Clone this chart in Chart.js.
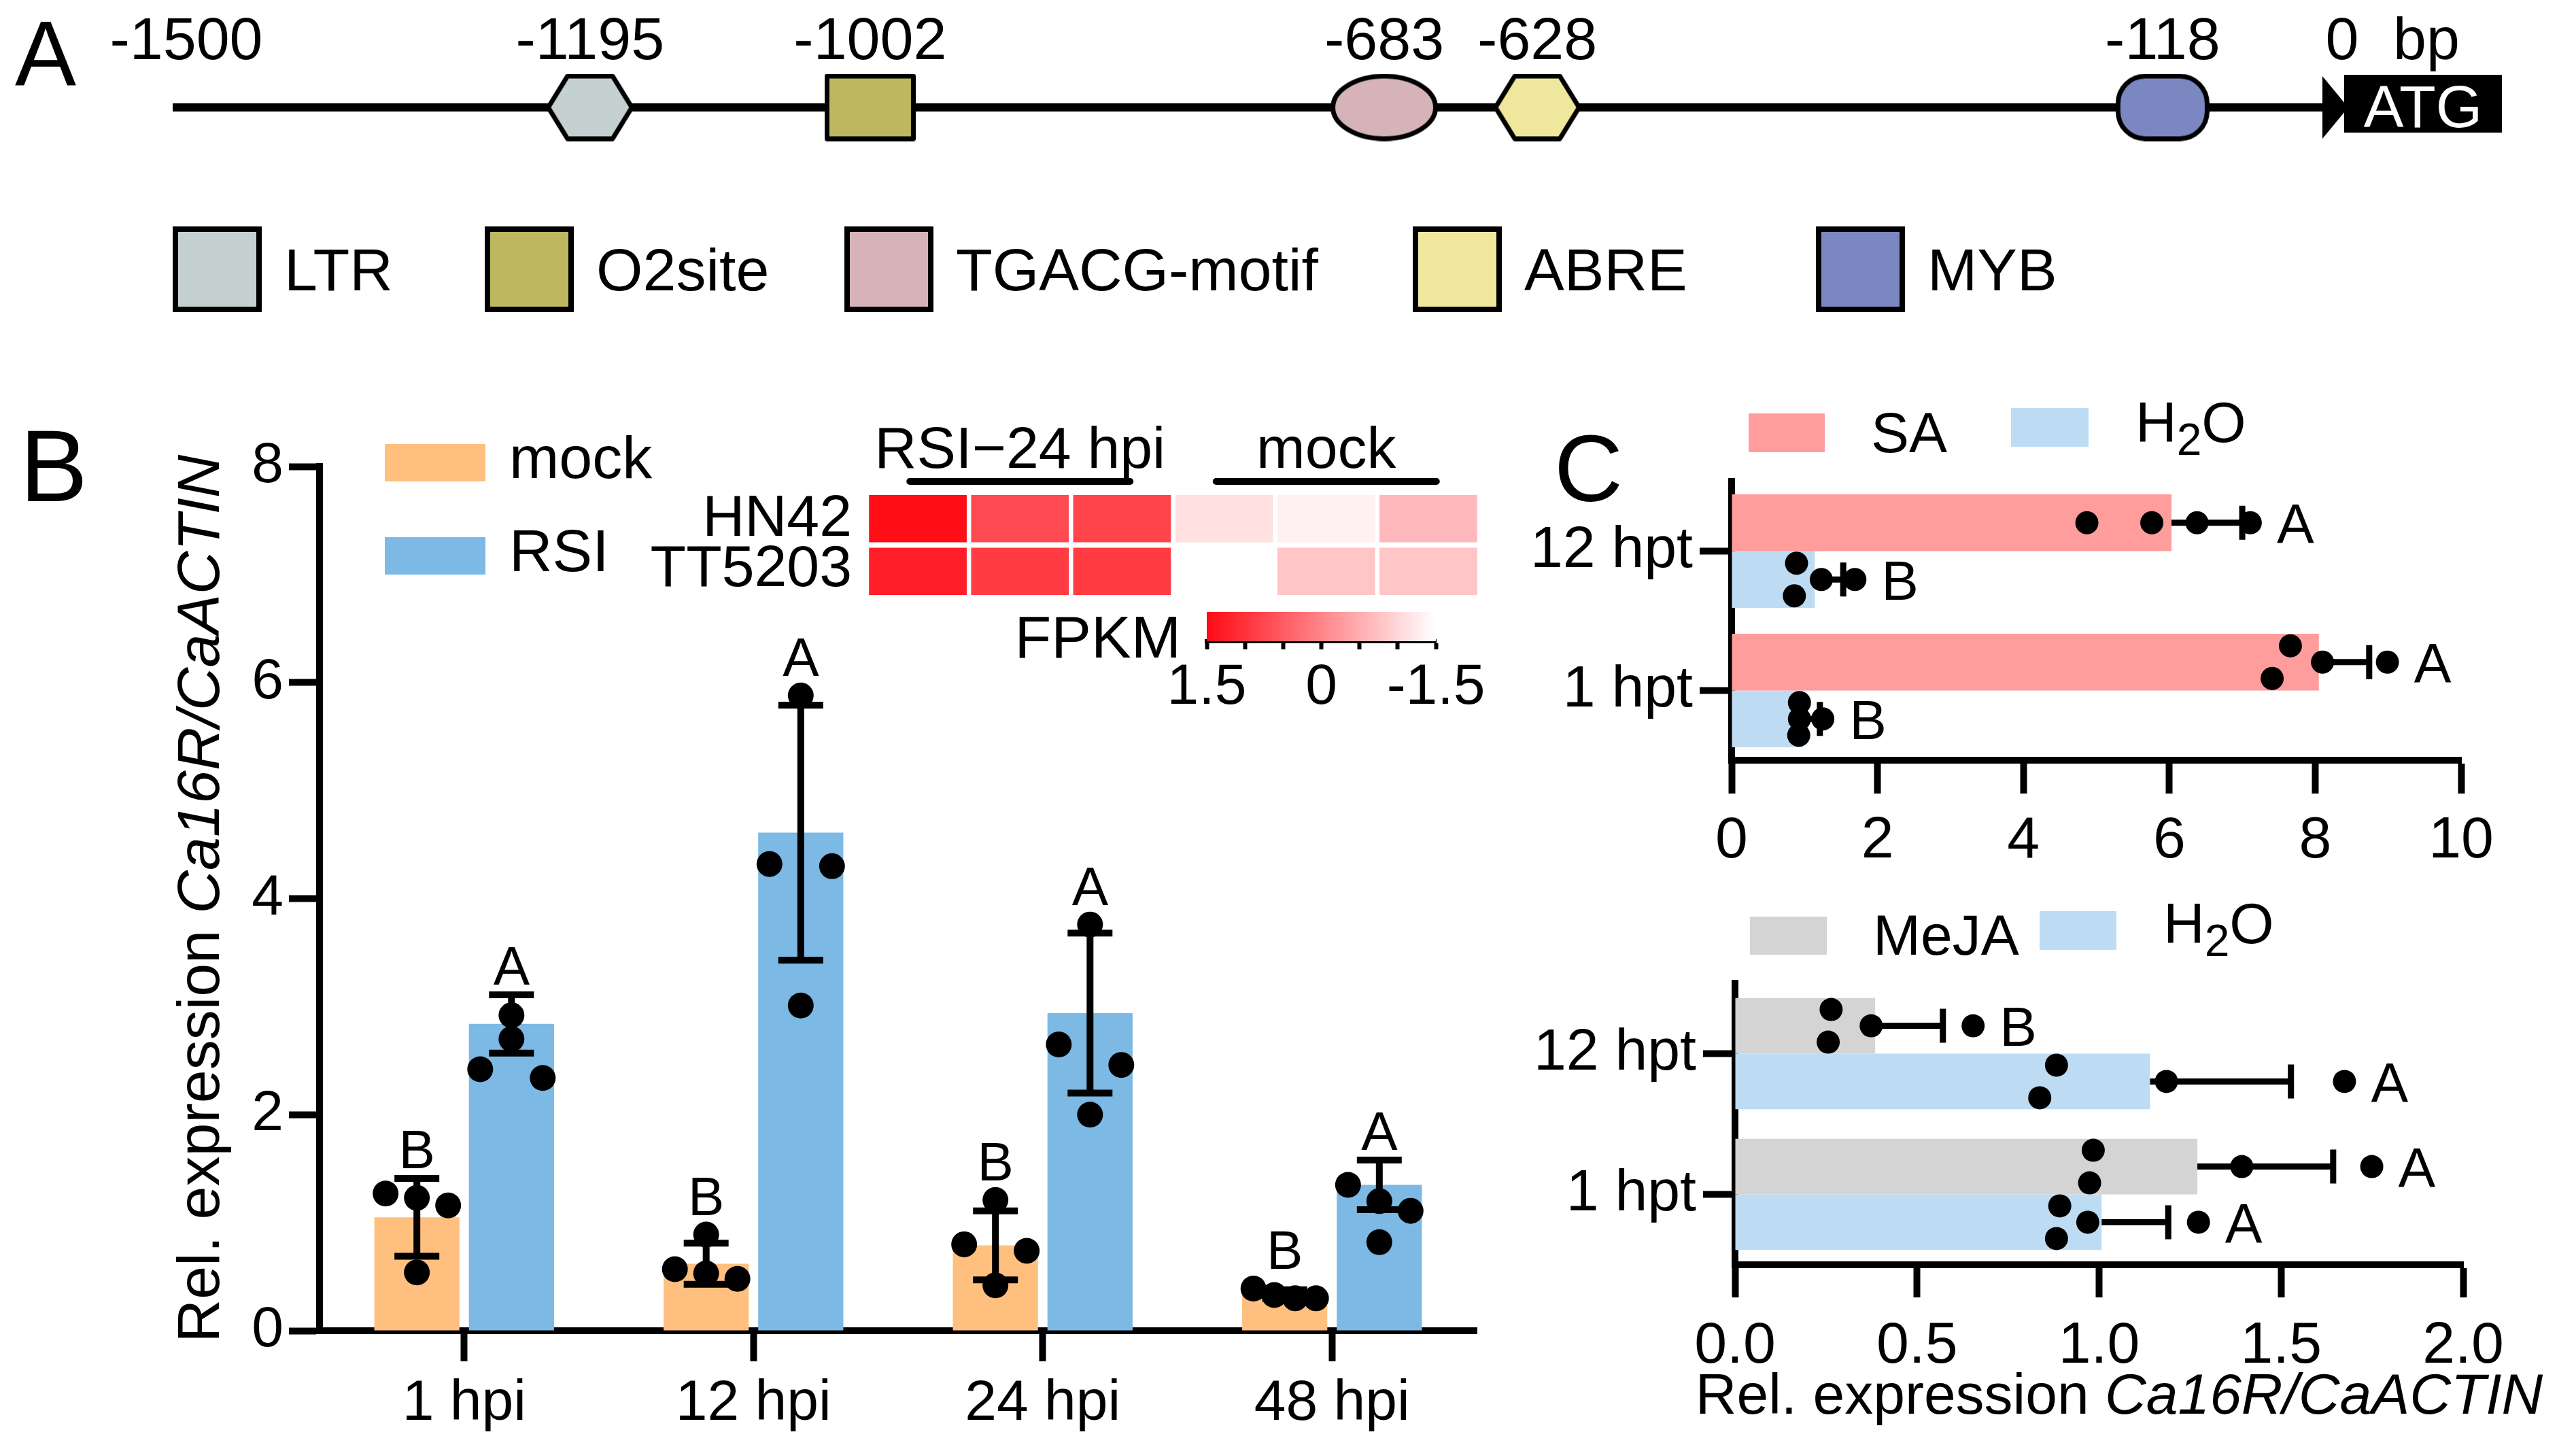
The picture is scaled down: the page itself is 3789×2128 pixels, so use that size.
<!DOCTYPE html>
<html lang="en">
<head>
<meta charset="UTF-8">
<title>Ca16R promoter elements and expression</title>
<script src="https://cdn.jsdelivr.net/npm/chart.js@4.4.1/dist/chart.umd.min.js"></script>
<style>
  html, body { margin: 0; padding: 0; background: #fff; }
  #page { position: relative; width: 3789px; height: 2128px; overflow: hidden; background: #fff; }
  #page canvas { position: absolute; }
</style>
</head>
<body>
<div id="page">
  <canvas id="mapChart"></canvas>
  <canvas id="rsiChart"></canvas>
  <canvas id="fpkmChart"></canvas>
  <canvas id="heatChart"></canvas>
  <canvas id="saChart"></canvas>
  <canvas id="mejaChart"></canvas>
</div>
<script>
// ---------- A: promoter map ----------
const siteNames = ['LTR', 'O2site', 'TGACG-motif', 'ABRE', 'MYB'];
const siteBp = [-1195, -1002, -683, -628, -118];
// where each element sits on the drawn map (the map is not to scale)
const siteMapPos = [-1211, -1017, -661, -555, -122];
const siteShapes = ['hexagon', 'rect', 'ellipse', 'hexagon', 'pill'];
const siteColors = ['#c5d1d0', '#bdb75f', '#d6b3b8', '#efe89c', '#7b87c1'];
const mapEnds = [-1500, 0];

// ---------- B: RSI time course ----------
const hpi = ['1 hpi', '12 hpi', '24 hpi', '48 hpi'];
const mockMean = [1.05, 0.62, 0.79, 0.34];
const mockSd = [0.36, 0.19, 0.32, 0.04];
const mockReps = [[1.27, 1.23, 1.16, 0.54], [0.89, 0.57, 0.53, 0.48], [1.21, 0.80, 0.74, 0.42], [0.39, 0.33, 0.30, 0.30]];
const mockLetters = ['B', 'B', 'B', 'B'];
const rsiMean = [2.84, 4.61, 2.94, 1.35];
const rsiSd = [0.27, 1.18, 0.74, 0.23];
const rsiReps = [[2.92, 2.70, 2.42, 2.34], [5.88, 4.32, 4.30, 3.01], [3.76, 2.65, 2.46, 2.00], [1.35, 1.20, 1.11, 0.82]];
const rsiLetters = ['A', 'A', 'A', 'A'];

// heatmap (row z-scores of FPKM)
const heatCols = ['RSI 1', 'RSI 2', 'RSI 3', 'mock 1', 'mock 2', 'mock 3'];
const heatGroups = ['RSI\u221224 hpi', 'mock'];
const heatRows = ['HN42', 'TT5203'];
const heatHN42 = [1.45, 0.72, 0.79, -1.13, -1.32, -0.63];
const heatTT5203 = [1.25, 0.90, 0.90, -1.50, -0.79, -0.79];
const fpkmLabels = [1.5, 0, -1.5];

// ---------- C: SA / MeJA ----------
const hpt = ['12 hpt', '1 hpt'];
const saMean = [6.03, 8.05];
const saSd = [0.97, 0.69];
const saReps = [[4.87, 5.76, 6.38, 7.11], [7.66, 8.10, 7.41, 8.99]];
const saLetters = ['A', 'A'];
const waterSaMean = [1.14, 0.98];
const waterSaSd = [0.39, 0.23];
const waterSaReps = [[0.89, 1.23, 1.69, 0.86], [0.92, 0.93, 1.25, 0.93]];
const waterSaLetters = ['B', 'B'];
const mejaMean = [0.385, 1.27];
const mejaSd = [0.186, 0.373];
const mejaReps = [[0.264, 0.374, 0.256, 0.654], [0.984, 1.392, 0.974, 1.749]];
const mejaLetters = ['B', 'A'];
const waterJaMean = [1.14, 1.007];
const waterJaSd = [0.387, 0.183];
const waterJaReps = [[0.883, 1.185, 0.837, 1.674], [0.883, 0.969, 0.892, 1.273]];
const waterJaLetters = ['A', 'A'];

const axisTitle = [['Rel. expression ', false], ['Ca16R/CaACTIN', true]];

// ---------- helpers ----------
const FONT = '"Liberation Sans", Arial, sans-serif';
Chart.defaults.font.family = FONT;
Chart.defaults.color = '#000';

function build(id, box, area, cfg, leftAxis, bottomAxis) {
  const cv = document.getElementById(id);
  cv.width = box.w; cv.height = box.h;
  Object.assign(cv.style, { left: box.x + 'px', top: box.y + 'px', width: box.w + 'px', height: box.h + 'px' });
  const o = cfg.options;
  o.responsive = false; o.animation = false; o.devicePixelRatio = 1;
  o.plugins = Object.assign({ legend: { display: false }, tooltip: { enabled: false } }, o.plugins || {});
  const lw = area.l - box.x, bh = box.y + box.h - area.b;
  o.layout = { padding: { left: leftAxis ? 0 : lw, top: area.t - box.y, right: box.x + box.w - area.r, bottom: bottomAxis ? 0 : bh } };
  if (leftAxis) o.scales[leftAxis].afterFit = s => { s.width = lw; };
  if (bottomAxis) o.scales[bottomAxis].afterFit = s => { s.height = bh; };
  return new Chart(cv, cfg);
}

function axisOpts(tickLen, lw, pad, size, extra) {
  const a = {
    grid: { drawOnChartArea: false, drawTicks: true, tickLength: tickLen, tickWidth: lw, tickColor: '#000', offset: false },
    border: { display: true, color: '#000', width: lw },
    ticks: { color: '#000', padding: pad, font: { size: size }, autoSkip: false, maxRotation: 0 }
  };
  for (const k in (extra || {})) {
    if (k === 'ticks') Object.assign(a.ticks, extra.ticks); else a[k] = extra[k];
  }
  return a;
}

function richText(ctx, parts, cx, y, size) {
  const fonts = parts.map(p => (p[1] ? 'italic ' : '') + size + 'px ' + FONT);
  const widths = parts.map((p, i) => { ctx.font = fonts[i]; return ctx.measureText(p[0]).width; });
  let x = cx - widths.reduce((a, b) => a + b, 0) / 2;
  ctx.textAlign = 'left'; ctx.textBaseline = 'alphabetic';
  parts.forEach((p, i) => { ctx.font = fonts[i]; ctx.fillText(p[0], x, y); x += widths[i]; });
}

// label with a subscript two (H₂O)
function labelText(ctx, text, x, y, size) {
  const parts = text.split('\u2082');
  ctx.textAlign = 'left'; ctx.textBaseline = 'alphabetic';
  let cx = x;
  parts.forEach((p, i) => {
    if (i > 0) {
      ctx.font = Math.round(size * 0.78) + 'px ' + FONT;
      ctx.fillText('2', cx, y + size * 0.23);
      cx += ctx.measureText('2').width;
    }
    ctx.font = size + 'px ' + FONT;
    ctx.fillText(p, cx, y);
    cx += ctx.measureText(p).width;
  });
}

// spread replicate dots that would overlap (runs of close values)
function swarm(vals, toPx, d, s) {
  const idx = vals.map((v, i) => i).sort((a, b) => vals[b] - vals[a]);
  const off = vals.map(() => 0);
  let run = [idx[0]];
  const flush = () => {
    const n = run.length;
    run.forEach((k, j) => { off[k] = n === 1 ? 0 : -s + 2 * s * j / (n - 1); });
  };
  for (let j = 1; j < idx.length; j++) {
    if (Math.abs(toPx(vals[idx[j]]) - toPx(vals[idx[j - 1]])) < d) run.push(idx[j]);
    else { flush(); run = [idx[j]]; }
  }
  flush();
  return off;
}

// error bars, replicate dots and letters for the bar panels
const barExtras = {
  id: 'barExtras',
  afterDatasetsDraw(chart, args, opts) {
    const ctx = chart.ctx;
    const horiz = chart.options.indexAxis === 'y';
    const vs = horiz ? chart.scales.x : chart.scales.y;
    const px = v => vs.getPixelForValue(v);
    chart.data.datasets.forEach((ds, di) => {
      chart.getDatasetMeta(di).data.forEach((bar, i) => {
        const m = ds.data[i], sd = ds.sd[i], reps = ds.reps[i];
        const c = horiz ? bar.y : bar.x;
        const hi = px(m + sd), lo = px(m - sd), mid = px(m);
        ctx.save();
        ctx.strokeStyle = '#000'; ctx.lineWidth = opts.lw; ctx.lineCap = 'butt';
        ctx.beginPath();
        if (horiz) {
          ctx.moveTo(mid, c); ctx.lineTo(hi, c);
          ctx.moveTo(hi, c - opts.cap); ctx.lineTo(hi, c + opts.cap);
        } else {
          ctx.moveTo(c, lo); ctx.lineTo(c, hi);
          ctx.moveTo(c - opts.cap, hi); ctx.lineTo(c + opts.cap, hi);
          ctx.moveTo(c - opts.cap, lo); ctx.lineTo(c + opts.cap, lo);
        }
        ctx.stroke();
        const off = swarm(reps, px, opts.r * 2 * 0.9, opts.spread);
        ctx.fillStyle = '#000';
        reps.forEach((v, k) => {
          ctx.beginPath();
          if (horiz) ctx.arc(px(v), c + off[k], opts.r, 0, 2 * Math.PI);
          else ctx.arc(c + off[k], px(v), opts.r, 0, 2 * Math.PI);
          ctx.fill();
        });
        ctx.font = opts.font + 'px ' + FONT;
        ctx.textBaseline = 'alphabetic';
        const top = Math.max(...reps);
        if (horiz) {
          const edge = Math.max(hi + opts.lw / 2, px(top) + opts.r);
          ctx.textAlign = 'left';
          ctx.fillText(ds.letters[i], edge + opts.gap, c + opts.font * 0.716 / 2);
        } else {
          const edge = Math.min(hi - opts.lw / 2, px(top) - opts.r);
          ctx.textAlign = 'center';
          ctx.fillText(ds.letters[i], c, edge - opts.gap);
        }
        ctx.restore();
      });
    });
  }
};

// ---------- A ----------
const shapeSize = { hexagon: [123, 92], rect: [127, 92], ellipse: [151, 92], pill: [131, 92] };
function shapeCanvas(kind, fill) {
  const [w, h] = shapeSize[kind], lw = 7;
  const c = document.createElement('canvas');
  c.width = w + lw; c.height = h + lw;
  const g = c.getContext('2d');
  g.translate(c.width / 2, c.height / 2);
  g.beginPath();
  if (kind === 'hexagon') {
    const k = w * 0.23;
    g.moveTo(-w / 2, 0); g.lineTo(-w / 2 + k, -h / 2); g.lineTo(w / 2 - k, -h / 2);
    g.lineTo(w / 2, 0); g.lineTo(w / 2 - k, h / 2); g.lineTo(-w / 2 + k, h / 2); g.closePath();
  } else if (kind === 'rect') {
    g.rect(-w / 2, -h / 2, w, h);
  } else if (kind === 'ellipse') {
    g.ellipse(0, 0, w / 2, h / 2, 0, 0, 2 * Math.PI);
  } else {
    const r = 40, x0 = -w / 2, y0 = -h / 2;
    g.moveTo(x0 + r, y0); g.arcTo(x0 + w, y0, x0 + w, y0 + h, r); g.arcTo(x0 + w, y0 + h, x0, y0 + h, r);
    g.arcTo(x0, y0 + h, x0, y0, r); g.arcTo(x0, y0, x0 + w, y0, r); g.closePath();
  }
  g.fillStyle = fill; g.fill();
  g.lineWidth = lw; g.strokeStyle = '#000'; g.lineJoin = 'round'; g.stroke();
  return c;
}

const mapBox = { x: 0, y: 0, w: 3789, h: 520 }, mapArea = { l: 254, t: 58, r: 3440, b: 258 };
const mapDecor = {
  id: 'mapDecor',
  afterDatasetsDraw(chart) {
    const ctx = chart.ctx, xs = chart.scales.x, ys = chart.scales.y;
    const x0 = xs.getPixelForValue(0), cy = ys.getPixelForValue(0);
    ctx.save();
    // arrow head and start codon
    ctx.fillStyle = '#000';
    ctx.beginPath(); ctx.moveTo(x0 - 24, cy - 46); ctx.lineTo(x0 + 14, cy); ctx.lineTo(x0 - 24, cy + 46); ctx.closePath(); ctx.fill();
    ctx.fillRect(x0 + 8, cy - 48, 232, 85);
    ctx.fillStyle = '#fff'; ctx.font = '88px ' + FONT; ctx.textAlign = 'center'; ctx.textBaseline = 'alphabetic';
    ctx.fillText('ATG', x0 + 124, cy + 29);
    // positions
    ctx.fillStyle = '#000';
    siteBp.forEach((bp, i) => ctx.fillText(String(bp), xs.getPixelForValue(siteMapPos[i]), 87));
    ctx.fillText(String(mapEnds[0]), xs.getPixelForValue(mapEnds[0]) + 20, 87);
    ctx.fillText(String(mapEnds[1]), x0 + 5, 87);
    ctx.textAlign = 'left'; ctx.fillText('bp', x0 + 80, 87);
    // panel letter
    ctx.font = '135px ' + FONT; ctx.fillText('A', 22, 125);
    // legend
    const boxX = [254, 713, 1242, 2078, 2671];
    siteNames.forEach((n, i) => {
      ctx.fillStyle = siteColors[i]; ctx.fillRect(boxX[i], 333, 131, 126);
      ctx.lineWidth = 8; ctx.strokeStyle = '#000'; ctx.strokeRect(boxX[i] + 4, 337, 123, 118);
      ctx.fillStyle = '#000'; ctx.font = '88px ' + FONT; ctx.textAlign = 'left';
      ctx.fillText(n, boxX[i] + 164, 427);
    });
    ctx.restore();
  }
};
build('mapChart', mapBox, mapArea, {
  type: 'scatter',
  data: {
    datasets: [
      { type: 'line', label: 'promoter', data: mapEnds.map(x => ({ x, y: 0 })), borderColor: '#000', borderWidth: 12,
        borderCapStyle: 'butt', pointRadius: 0, order: 2 },
      { label: 'elements', data: siteMapPos.map(x => ({ x, y: 0 })), pointStyle: siteShapes.map((s, i) => shapeCanvas(s, siteColors[i])),
        pointRadius: 10, showLine: false, order: 1 }
    ]
  },
  options: {
    scales: { x: { type: 'linear', min: mapEnds[0], max: mapEnds[1], display: false }, y: { min: -1, max: 1, display: false } }
  },
  plugins: [mapDecor]
});

// ---------- B ----------
const bBox = { x: 0, y: 560, w: 2240, h: 1568 }, bArea = { l: 470, t: 686, r: 2172, b: 1957 };
const bDecor = {
  id: 'bDecor',
  afterDraw(chart) {
    const ctx = chart.ctx;
    ctx.save(); ctx.translate(-bBox.x, -bBox.y);
    ctx.fillStyle = '#000'; ctx.textAlign = 'left'; ctx.textBaseline = 'alphabetic';
    ctx.font = '150px ' + FONT; ctx.fillText('B', 29, 737);
    chart.data.datasets.forEach((ds, i) => {
      const y = 653 + i * 137;
      ctx.fillStyle = ds.backgroundColor; ctx.fillRect(566, y, 148, 55);
      ctx.fillStyle = '#000'; ctx.font = '88px ' + FONT; ctx.fillText(ds.label, 749, y + 50);
    });
    ctx.translate(322, (bArea.t + bArea.b) / 2); ctx.rotate(-Math.PI / 2);
    richText(ctx, axisTitle, 0, 0, 88);
    ctx.restore();
  }
};
build('rsiChart', bBox, bArea, {
  type: 'bar',
  data: {
    labels: hpi,
    datasets: [
      { label: 'mock', data: mockMean, sd: mockSd, reps: mockReps, letters: mockLetters, backgroundColor: '#ffbf7f' },
      { label: 'RSI', data: rsiMean, sd: rsiSd, reps: rsiReps, letters: rsiLetters, backgroundColor: '#7cb9e4' }
    ]
  },
  options: {
    datasets: { bar: { categoryPercentage: 0.654, barPercentage: 0.9 } },
    scales: {
      x: axisOpts(45, 10, 12, 84),
      y: axisOpts(45, 10, 8, 84, { min: 0, max: 8, ticks: { stepSize: 2 } })
    },
    plugins: { barExtras: { lw: 10, cap: 33, r: 19, spread: 46, font: 80, gap: 10 } }
  },
  plugins: [barExtras, bDecor]
}, 'y', 'x');

// heatmap
function heatColor(v) {
  const t = (1.5 - v) / 3;
  return 'rgb(255,' + Math.round(10 + t * 245) + ',' + Math.round(20 + t * 235) + ')';
}
const hBox = { x: 880, y: 590, w: 1360, h: 380 }, hArea = { l: 1275, t: 728, r: 2176, b: 875 };
const heatDecor = {
  id: 'heatDecor',
  afterDraw(chart) {
    const ctx = chart.ctx, cells = chart.getDatasetMeta(0).data;
    ctx.save(); ctx.translate(-hBox.x, -hBox.y);
    heatGroups.forEach((g, gi) => {
      const cx = (cells[gi * 3].x + cells[gi * 3 + 2].x) / 2 + hBox.x;
      ctx.fillStyle = '#000'; ctx.font = '86px ' + FONT; ctx.textAlign = 'center'; ctx.textBaseline = 'alphabetic';
      ctx.fillText(g, cx, 688);
      ctx.strokeStyle = '#000'; ctx.lineWidth = 10; ctx.lineCap = 'round';
      ctx.beginPath(); ctx.moveTo(cx - 162, 708); ctx.lineTo(cx + 162, 708); ctx.stroke();
    });
    ctx.restore();
  }
};
build('heatChart', hBox, hArea, {
  type: 'bar',
  data: {
    labels: heatCols,
    datasets: [
      { label: heatRows[0], data: heatHN42.map(() => [1.055, 2]), backgroundColor: heatHN42.map(heatColor) },
      { label: heatRows[1], data: heatTT5203.map(() => [0, 0.945]), backgroundColor: heatTT5203.map(heatColor) }
    ]
  },
  options: {
    datasets: { bar: { grouped: false, barPercentage: 0.957, categoryPercentage: 1 } },
    scales: {
      x: { display: false },
      y: {
        min: 0, max: 2,
        afterBuildTicks: s => { s.ticks = [{ value: 0.5 }, { value: 1.5 }]; },
        ticks: { callback: v => (v > 1 ? heatRows[0] : heatRows[1]), padding: 22, font: { size: 86 }, color: '#000' },
        grid: { display: false, drawTicks: false },
        border: { display: false }
      }
    }
  },
  plugins: [heatDecor]
}, 'y', null);

// colour key
const fBox = { x: 1480, y: 880, w: 760, h: 170 }, fArea = { l: 1775, t: 900, r: 2112, b: 943 };
const fpkmDecor = {
  id: 'fpkmDecor',
  afterDraw(chart) {
    const ctx = chart.ctx;
    ctx.save(); ctx.translate(-fBox.x, -fBox.y);
    ctx.fillStyle = '#000'; ctx.font = '88px ' + FONT; ctx.textAlign = 'right'; ctx.textBaseline = 'alphabetic';
    ctx.fillText('FPKM', 1737, 967);
    ctx.restore();
  }
};
build('fpkmChart', fBox, fArea, {
  type: 'bar',
  data: {
    labels: ['FPKM'],
    datasets: [{
      data: [[fpkmLabels[2], fpkmLabels[0]]],
      backgroundColor: c => {
        const a = c.chart.chartArea;
        if (!a) return heatColor(0);
        const g = c.chart.ctx.createLinearGradient(a.left, 0, a.right, 0);
        g.addColorStop(0, heatColor(fpkmLabels[0]));
        g.addColorStop(1, heatColor(fpkmLabels[2]));
        return g;
      }
    }]
  },
  options: {
    indexAxis: 'y',
    datasets: { bar: { barPercentage: 1, categoryPercentage: 1 } },
    scales: {
      y: { display: false },
      x: axisOpts(12, 6, 6, 84, {
        type: 'linear', reverse: true, min: fpkmLabels[2], max: fpkmLabels[0],
        ticks: { stepSize: 0.5, callback: v => (fpkmLabels.some(t => Math.abs(t - v) < 1e-6) ? String(v) : '') }
      })
    }
  },
  plugins: [fpkmDecor]
}, null, 'x');

// ---------- C ----------
function cLegend(ctx, datasets, spots) {
  datasets.forEach((ds, i) => {
    const s = spots[i];
    ctx.fillStyle = ds.backgroundColor; ctx.fillRect(s[0], s[1], s[2], s[3]);
    ctx.fillStyle = '#000'; labelText(ctx, ds.label, s[4], s[5], 84);
  });
}
const saBox = { x: 2240, y: 560, w: 1549, h: 720 }, saArea = { l: 2547, t: 708, r: 3620, b: 1118 };
const saDecor = {
  id: 'saDecor',
  afterDraw(chart) {
    const ctx = chart.ctx;
    ctx.save(); ctx.translate(-saBox.x, -saBox.y);
    ctx.fillStyle = '#000'; ctx.font = '140px ' + FONT; ctx.textAlign = 'left'; ctx.textBaseline = 'alphabetic';
    ctx.fillText('C', 2286, 737);
    cLegend(ctx, chart.data.datasets, [[2572, 608, 112, 57, 2752, 665], [2958, 600, 114, 57, 3141, 650]]);
    ctx.restore();
  }
};
build('saChart', saBox, saArea, {
  type: 'bar',
  data: {
    labels: hpt,
    datasets: [
      { label: 'SA', data: saMean, sd: saSd, reps: saReps, letters: saLetters, backgroundColor: '#ff9c9c' },
      { label: 'H\u2082O', data: waterSaMean, sd: waterSaSd, reps: waterSaReps, letters: waterSaLetters, backgroundColor: '#bddcf3' }
    ]
  },
  options: {
    indexAxis: 'y',
    datasets: { bar: { categoryPercentage: 0.815, barPercentage: 1 } },
    scales: {
      y: axisOpts(47, 10, 10, 86),
      x: axisOpts(49, 10, 19, 86, { type: 'linear', min: 0, max: 10, ticks: { stepSize: 2 } })
    },
    plugins: { barExtras: { lw: 9, cap: 25, r: 17, spread: 24, font: 82, gap: 22 } }
  },
  plugins: [barExtras, saDecor]
}, 'y', 'x');

const jaBox = { x: 2240, y: 1290, w: 1549, h: 838 }, jaArea = { l: 2552, t: 1446, r: 3623, b: 1860 };
const jaDecor = {
  id: 'jaDecor',
  afterDraw(chart) {
    const ctx = chart.ctx;
    ctx.save(); ctx.translate(-jaBox.x, -jaBox.y);
    cLegend(ctx, chart.data.datasets, [[2574, 1348, 113, 56, 2755, 1404], [3000, 1340, 113, 57, 3182, 1387]]);
    ctx.fillStyle = '#000';
    richText(ctx, axisTitle, 3117, 2079, 84);
    ctx.restore();
  }
};
build('mejaChart', jaBox, jaArea, {
  type: 'bar',
  data: {
    labels: hpt,
    datasets: [
      { label: 'MeJA', data: mejaMean, sd: mejaSd, reps: mejaReps, letters: mejaLetters, backgroundColor: '#d4d4d4' },
      { label: 'H\u2082O', data: waterJaMean, sd: waterJaSd, reps: waterJaReps, letters: waterJaLetters, backgroundColor: '#bddcf3' }
    ]
  },
  options: {
    indexAxis: 'y',
    datasets: { bar: { categoryPercentage: 0.79, barPercentage: 1 } },
    scales: {
      y: axisOpts(47, 10, 10, 86),
      x: axisOpts(48, 10, 21, 86, { type: 'linear', min: 0, max: 2, ticks: { stepSize: 0.5, callback: v => v.toFixed(1) } })
    },
    plugins: { barExtras: { lw: 9, cap: 25, r: 17, spread: 24, font: 82, gap: 22 } }
  },
  plugins: [barExtras, jaDecor]
}, 'y', 'x');
</script>
</body>
</html>
